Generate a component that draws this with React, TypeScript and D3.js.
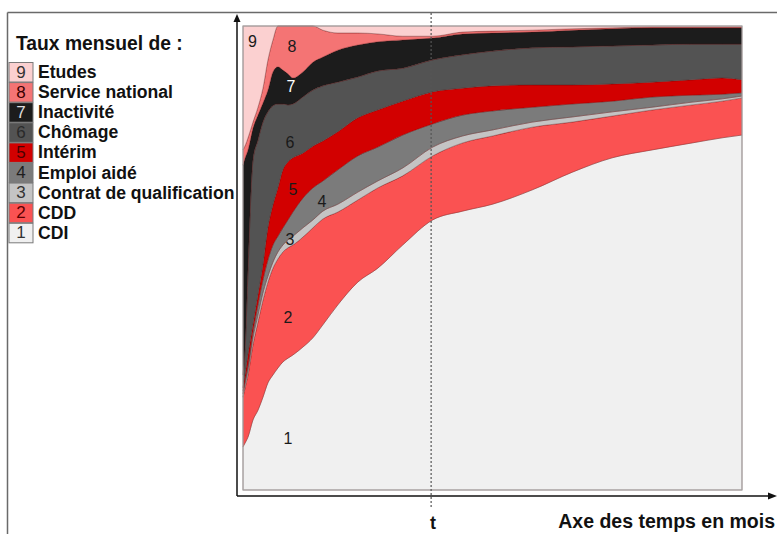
import * as d3 from 'd3'
import React from 'react'

// months since exit (no tick labels in the source, 0..100 spans the plot)
const months = [0, 0.5, 1, 2, 3, 4, 5, 6, 7, 8, 9, 10, 12, 14, 16, 19, 23, 27, 32, 38, 44, 50, 58, 66, 74, 82, 90, 96, 100]

// monthly shares (%) per situation
const cdi = [9.3, 10.3, 11.4, 15.1, 17.2, 20.0, 23.1, 24.8, 26.3, 27.6, 28.4, 29.1, 30.8, 32.8, 35.6, 39.9, 44.8, 47.8, 52.8, 58.2, 60.1, 61.6, 64.7, 68.5, 71.6, 73.3, 74.8, 75.9, 76.5]
const cdd = [10.7, 12.1, 13.4, 16.2, 19.0, 20.9, 21.7, 23.0, 23.5, 23.7, 23.8, 23.7, 23.7, 23.7, 22.8, 20.0, 17.7, 17.3, 14.9, 13.8, 14.7, 14.7, 13.5, 10.8, 9.0, 8.6, 8.2, 7.9, 8.0]
const qualif = [0.7, 0.9, 1.1, 1.5, 1.5, 1.6, 1.3, 1.3, 1.5, 1.5, 1.7, 1.9, 2.0, 1.7, 1.7, 1.7, 1.7, 1.5, 1.7, 1.9, 1.5, 1.3, 1.1, 1.1, 0.9, 0.6, 0.6, 0.5, 0.4]
const aide = [0.6, 0.8, 1.0, 1.3, 2.2, 2.8, 3.5, 3.7, 3.4, 3.7, 4.3, 5.2, 6.4, 6.9, 6.5, 7.4, 7.8, 7.3, 7.1, 5.0, 4.5, 4.1, 3.2, 2.8, 2.3, 2.2, 1.5, 1.0, 0.7]
const interim = [0.7, 1.3, 2.2, 1.5, 2.1, 3.2, 6.9, 8.6, 10.4, 12.5, 12.5, 11.7, 9.7, 9.0, 8.6, 8.2, 8.2, 8.0, 7.3, 6.9, 5.8, 5.4, 4.8, 4.1, 3.7, 3.2, 3.3, 3.5, 2.8]
const chomage = [2.8, 6.9, 18.3, 35.5, 33.4, 30.8, 25.0, 21.4, 18.1, 14.2, 12.3, 11.6, 12.1, 12.1, 11.9, 10.7, 8.8, 8.4, 7.1, 6.9, 7.2, 7.5, 8.0, 8.2, 8.2, 8.0, 7.7, 7.3, 7.7]
const inactivite = [45.2, 39.5, 25.9, 6.9, 5.4, 4.1, 4.7, 7.3, 8.0, 7.3, 6.7, 5.6, 5.4, 6.0, 6.2, 6.9, 6.9, 6.3, 6.1, 4.7, 4.5, 3.9, 3.4, 3.6, 3.7, 3.7, 3.5, 3.5, 3.5]
const service = [3.3, 2.6, 2.6, 1.3, 1.7, 3.2, 6.5, 6.9, 8.8, 9.5, 10.3, 11.2, 9.9, 7.8, 5.8, 3.7, 2.6, 1.7, 0.8, 0.4, 0.4, 0.4, 0.4, 0.3, 0.2, 0.2, 0.2, 0.2, 0.2]
const etudes = [26.7, 25.6, 24.1, 20.7, 17.5, 13.4, 7.3, 3.0, 0, 0, 0, 0, 0, 0, 0.9, 1.5, 1.5, 1.7, 2.2, 2.2, 1.3, 1.1, 0.9, 0.6, 0.4, 0.2, 0.2, 0.2, 0.2]

const keys = ['cdi', 'cdd', 'qualif', 'aide', 'interim', 'chomage', 'inactivite', 'service', 'etudes']
const series = [cdi, cdd, qualif, aide, interim, chomage, inactivite, service, etudes]
const labels = ['CDI', 'CDD', 'Contrat de qualification', 'Emploi aidé', 'Intérim', 'Chômage', 'Inactivité', 'Service national', 'Etudes']
const colors = ['#f0f0f0', '#fa5252', '#c4c4c4', '#7b7b7b', '#d20000', '#535353', '#1c1c1c', '#f47474', '#fbd0d0']
const numColors = ['#333', '#5a0000', '#333', '#1e1e1e', '#4a0000', '#2a2a2a', '#dddddd', '#3a0000', '#333']

// label anchors inside the bands: [month, share]
const bandLabelPos = [[9.0, 0.112], [9.0, 0.371], [9.4, 0.539], [15.8, 0.621], [10.0, 0.647], [9.4, 0.748], [9.6, 0.869], [9.8, 0.955], [1.9, 0.966]]
const tMonth = 37.7

const font = '"Liberation Sans", Arial, sans-serif'

export default function App() {
  const x = d3.scaleLinear().domain([0, 100]).range([243, 742])
  const y = d3.scaleLinear().domain([0, 1]).range([490, 26])

  const rows = months.map((m, i) => {
    const r: Record<string, number> = { month: m }
    keys.forEach((k, j) => (r[k] = series[j][i]))
    return r
  })

  const stacked = d3.stack<Record<string, number>>().keys(keys).offset(d3.stackOffsetExpand)(rows)

  const area = d3
    .area<any>()
    .x((d) => x(d.data.month))
    .y0((d) => y(d[0]))
    .y1((d) => y(d[1]))
    .curve(d3.curveMonotoneX)

  const axisY = 496
  const axisX = 237

  return (
    <svg width={777} height={534} style={{ position: 'absolute', left: 0, top: 0, fontFamily: font }}>
      <rect x={0} y={0} width={777} height={534} fill="#fff" />
      {/* frame */}
      <line x1={7.5} y1={12.5} x2={777} y2={12.5} stroke="#6a6a6a" strokeWidth={1.5} />
      <line x1={7.5} y1={12.5} x2={7.5} y2={534} stroke="#6a6a6a" strokeWidth={1.5} />

      {/* plot background */}
      <rect x={x(0)} y={y(1)} width={x(100) - x(0)} height={y(0) - y(1)} fill={colors[0]} />
      {stacked.map((s, i) => (
        <path key={s.key} d={area(s) || ''} fill={colors[i]} stroke="rgba(90,10,10,0.45)" strokeWidth={0.7} />
      ))}
      <rect x={x(0)} y={y(1)} width={x(100) - x(0)} height={y(0) - y(1)} fill="none" stroke="#a5a5a5" strokeWidth={1.2} />

      {/* band numbers */}
      {bandLabelPos.map(([m, v], i) => (
        <text key={i} x={x(m)} y={y(v)} textAnchor="middle" dominantBaseline="central" fontSize={16}
          fill={i === 6 ? '#ffffff' : '#1a1a1a'}>
          {i + 1}
        </text>
      ))}

      {/* t marker */}
      <line x1={x(tMonth)} y1={13} x2={x(tMonth)} y2={508} stroke="#555" strokeWidth={1.2} strokeDasharray="2,2" />
      <text x={x(tMonth) + 2} y={529} textAnchor="middle" fontSize={18} fontWeight="bold" fill="#111">t</text>

      {/* axes with arrows */}
      <line x1={axisX} y1={axisY} x2={axisX} y2={20} stroke="#111" strokeWidth={1.5} />
      <path d={`M${axisX - 3.5},${22} L${axisX},${14} L${axisX + 3.5},${22} Z`} fill="#111" />
      <line x1={axisX} y1={axisY} x2={770} y2={axisY} stroke="#111" strokeWidth={1.5} />
      <path d={`M${768},${axisY - 3.5} L${777},${axisY} L${768},${axisY + 3.5} Z`} fill="#111" />
      <text x={775} y={528} textAnchor="end" fontSize={19.5} fontWeight="bold" fill="#111">Axe des temps en mois</text>

      {/* legend */}
      <text x={16} y={50} fontSize={19.3} fontWeight="bold" fill="#111">Taux mensuel de :</text>
      {keys.map((k, i) => {
        const row = 8 - i
        const cy = 72 + row * 20.1
        return (
          <g key={k}>
            <rect x={9} y={cy - 9.5} width={24} height={19.5} fill={colors[i]} stroke="#7a7a7a" strokeWidth={1} />
            <text x={21} y={cy} textAnchor="middle" dominantBaseline="central" fontSize={17} fill={numColors[i]}>{i + 1}</text>
            <text x={38} y={cy} dominantBaseline="central" fontSize={17.6} fontWeight="bold" fill="#111">{labels[i]}</text>
          </g>
        )
      })}
    </svg>
  )
}
